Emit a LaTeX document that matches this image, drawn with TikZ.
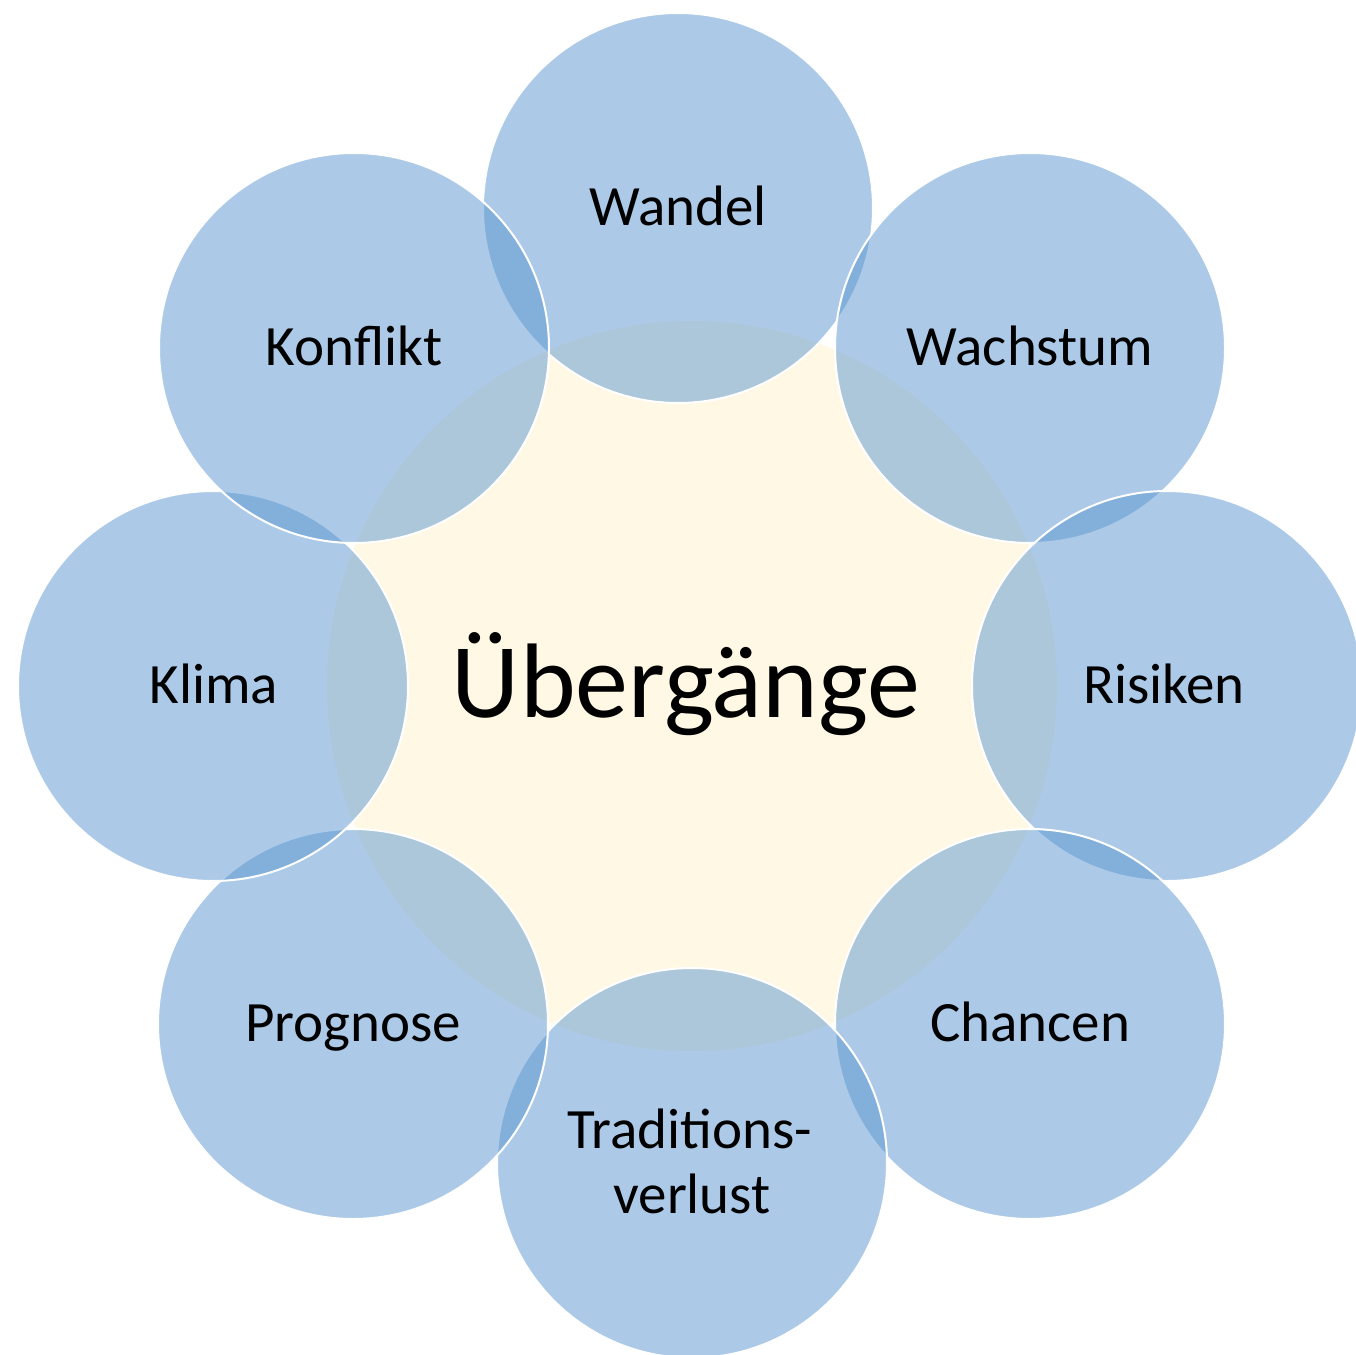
\documentclass[tikz,border=0pt]{standalone}
\usepackage{fontspec}
\setmainfont{Carlito}
\definecolor{bubble}{RGB}{91,151,209}
\definecolor{cream}{RGB}{255,248,229}
\tikzset{
  outer/.style={circle, inner sep=0pt, minimum size=390pt, fill=bubble, fill opacity=0.5, draw=white, draw opacity=1, line width=2pt},
  hub/.style={circle, inner sep=0pt, minimum size=730pt, fill=cream},
  lbl/.style={anchor=base, inner sep=0pt, font=\fontsize{57}{68}\selectfont, text=black},
  hublbl/.style={anchor=base, inner sep=0pt, font=\fontsize{106}{120}\selectfont, text=black}
}
\begin{document}
\begin{tikzpicture}[x=1pt,y=-1pt]
\useasboundingbox (0,0) rectangle (1355,1355);
\fill[white] (0,0) rectangle (1355,1355);
\node[hub] (hub) at (692,686) {};
\node[outer] (wandel) at (678,208) {};
\node[outer] (wachstum) at (1030,348) {};
\node[outer] (risiken) at (1167,686) {};
\node[outer] (chancen) at (1030,1024) {};
\node[outer] (tradition) at (692,1163) {};
\node[outer] (prognose) at (353,1024) {};
\node[outer] (klima) at (213,686) {};
\node[outer] (konflikt) at (354,348) {};
\node[hublbl] (thub) at (686,717) {Übergänge};
\node[lbl] (twandel) at (678,225) {Wandel};
\node[lbl] (twachstum) at (1030,365) {Wachstum};
\node[lbl] (trisiken) at (1164,703) {Risiken};
\node[lbl] (tchancen) at (1030,1041) {Chancen};
\node[lbl] (ttrad1) at (690,1148) {Traditions-};
\node[lbl] (ttrad2) at (692,1213) {verlust};
\node[lbl] (tprognose) at (353,1041) {Prognose};
\node[lbl] (tklima) at (214,703) {Klima};
\node[lbl] (tkonflikt) at (354,365) {Konflikt};
\end{tikzpicture}
\end{document}
